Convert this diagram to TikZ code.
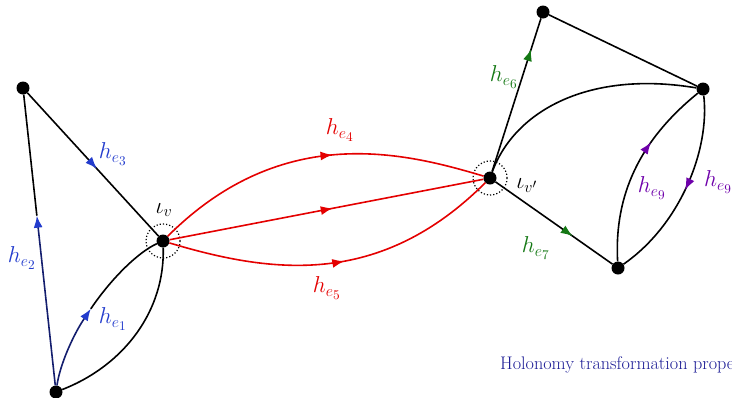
\documentclass[tikz,border=0pt]{standalone}
\usepackage{fontspec}
\usetikzlibrary{arrows.meta,decorations.markings,calc}
\definecolor{eblue}{RGB}{35,60,205}
\definecolor{navy}{RGB}{20,30,110}
\definecolor{ered}{RGB}{228,0,0}
\definecolor{egreen}{RGB}{20,120,20}
\definecolor{epurple}{RGB}{110,0,170}
\definecolor{txtblue}{RGB}{30,30,150}
\newcommand{\lbl}[1]{\scalebox{1.33}{$#1$}}
\tikzset{
  vtx/.style={circle,fill=black,inner sep=0pt,minimum size=13pt},
  ring/.style={circle,draw,dash pattern=on 1.2pt off 2pt,line width=1.2pt,minimum size=34pt,inner sep=0pt},
  edge/.style={line width=1.6pt},
  lab/.style={font=\LARGE,inner sep=0pt},
  arr/.style 2 args={postaction={decorate},decoration={markings,mark=at position #1 with {\arrow{Latex[length=12pt,width=9pt,color=#2]}}}}
}
\begin{document}
\begin{tikzpicture}[x=1pt,y=-1pt]
\useasboundingbox (0,0) rectangle (732,397);
\clip (0,0) rectangle (732,397);
% vertices
\node[vtx] (A) at (23,88) {};
\node[vtx] (B) at (56,392) {};
\node[vtx] (V) at (163,241) {};
\node[vtx] (Vp) at (490,178) {};
\node[vtx] (C) at (543,12) {};
\node[vtx] (D) at (703,89) {};
\node[vtx] (E) at (618,268) {};
\node[ring] (rV) at (V) {};
\node[ring] (rVp) at (Vp) {};
\coordinate (s2) at ($(B)!0.58!(A)$);
\coordinate (s1) at (90.81,308.82);
% left part
\draw[edge,navy,-{Latex[length=12pt,width=9pt,color=eblue]}] (B) -- (s2);
\draw[edge] (s2) -- (A);
\draw[edge,arr={0.53}{eblue}] (A) -- (V);
\draw[edge,navy,-{Latex[length=12pt,width=9pt,color=eblue]}] (B) .. controls (60.05,364.1) and (73.42,334.58) .. (s1);
\draw[edge] (s1) .. controls (112.07,277.33) and (139.35,251.45) .. (V);
\draw[edge] (B) .. controls (125,365) and (165,310) .. (V);
% red edges
\draw[edge,ered,arr={0.55}{ered}] (V) .. controls (283,121) and (406,153) .. (Vp);
\draw[edge,ered,arr={0.52}{ered}] (V) -- (Vp);
\draw[edge,ered,arr={0.52}{ered}] (V) .. controls (270,273) and (379,289) .. (Vp);
% right part
\draw[edge,arr={0.8}{egreen}] (Vp) -- (C);
\draw[edge] (Vp) .. controls (515,110) and (590,70) .. (D);
\draw[edge] (C) -- (D);
\draw[edge,arr={0.66}{egreen}] (Vp) -- (E);
\draw[edge,arr={0.65}{epurple}] (E) .. controls (614,195) and (640,140) .. (D);
\draw[edge,arr={0.5}{epurple}] (D) .. controls (710,150) and (680,225) .. (E);
% labels
\node[lab,text=eblue] (l3) at (113,154) {\lbl{h_{e_3}}};
\node[lab,text=eblue] (l2) at (22,258) {\lbl{h_{e_2}}};
\node[lab,text=eblue] (l1) at (113,319) {\lbl{h_{e_1}}};
\node[lab] (iv) at (164,210) {\lbl{\iota_v}};
\node[lab,text=ered] (l4) at (340,130) {\lbl{h_{e_4}}};
\node[lab,text=ered] (l5) at (327,288) {\lbl{h_{e_5}}};
\node[lab,text=egreen] (l6) at (504,77) {\lbl{h_{e_6}}};
\node[lab] (ivp) at (527,186) {\lbl{\iota_{v'}}};
\node[lab,text=egreen] (l7) at (536,248) {\lbl{h_{e_7}}};
\node[lab,text=epurple] (l9a) at (652,188) {\lbl{h_{e_9}}};
\node[lab,text=epurple,anchor=west] (l9b) at (704,182) {\lbl{h_{e_9}}};
\node[anchor=base west,inner sep=0pt,text=txtblue,font=\fontsize{18.2}{22}\selectfont] (cap) at (500,369) {Holonomy transformation prope};
\end{tikzpicture}
\end{document}
